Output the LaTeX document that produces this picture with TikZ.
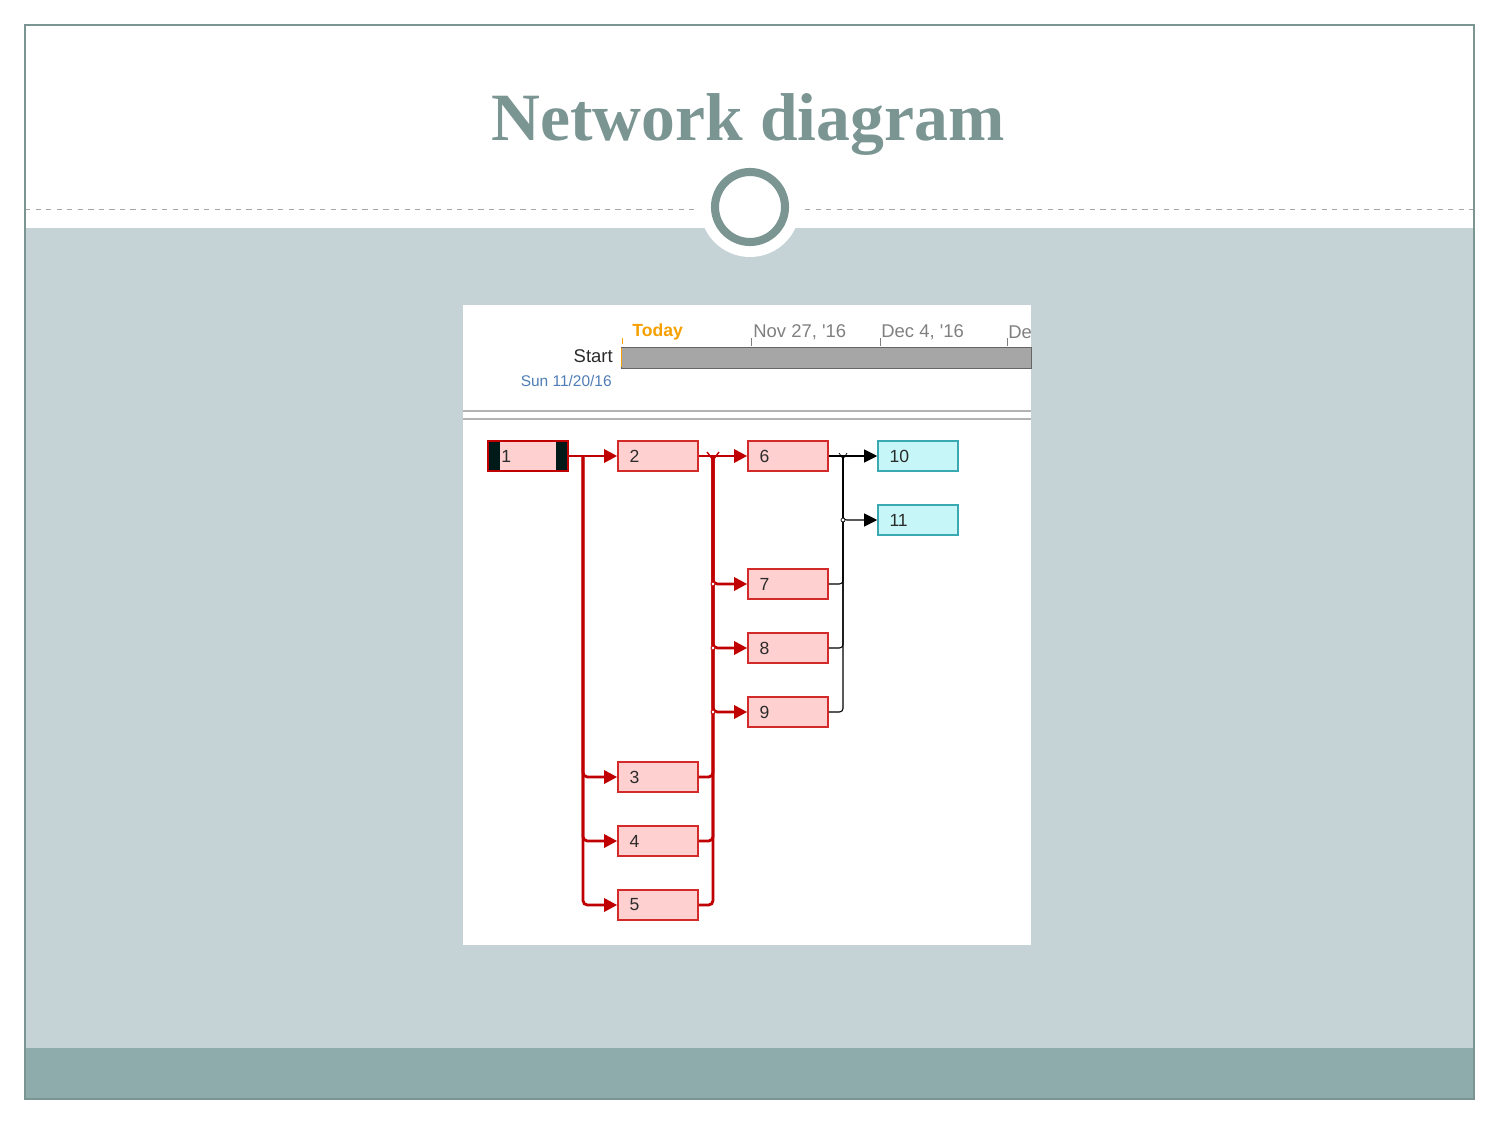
\documentclass[tikz,border=0pt]{standalone}
\usepackage{fontspec}
\setmainfont{Liberation Sans}
\newfontfamily\titlefont{Liberation Serif}
\usetikzlibrary{arrows.meta}
\definecolor{slateteal}{HTML}{7A9592}
\definecolor{bandblue}{HTML}{C5D3D7}
\definecolor{footteal}{HTML}{8EACAB}
\definecolor{taskred}{HTML}{D42A2A}
\definecolor{taskpink}{HTML}{FFD0D0}
\definecolor{crit}{HTML}{C00000}
\definecolor{milecyan}{HTML}{C6F6F8}
\definecolor{mileedge}{HTML}{3AA9B1}
\definecolor{datecol}{HTML}{4F7DB5}
\definecolor{todaycol}{HTML}{F5A000}
\definecolor{inktext}{HTML}{2B2B2B}
\tikzset{
  task/.style={draw=taskred, fill=taskpink, line width=.9pt, minimum width=1.6cm,
    minimum height=.6cm, inner sep=0pt, text width=1.14cm, align=left, text=inktext,
    font=\fontsize{10}{12}\selectfont},
  mile/.style={task, draw=mileedge, fill=milecyan},
  redlink/.style={crit, line width=1.6pt, rounded corners=2.5pt},
  blklink/.style={black, line width=.6pt, rounded corners=2pt},
  tip/.style={-{Triangle[length=7.5pt,width=7.5pt]}},
}
\begin{document}
\begin{tikzpicture}[x=.02cm, y=-.02cm]
  \useasboundingbox (0,0) rectangle (1500,1125);
  % slide
  \fill[bandblue] (25,228) rectangle (1474,1048);
  \fill[footteal] (25,1048) rectangle (1474,1099);
  \draw[gray!70, dashed, line width=.4pt] (25,209) -- (1474,209);
  \draw[slateteal, line width=.6pt] (25,25) rectangle (1474,1099);
  \node (title) at (748,124) {\titlefont\bfseries\fontsize{38.5}{46}\selectfont\color{slateteal}Network diagram};
  \fill[white] (750,207) circle [radius=50];
  \draw[slateteal, line width=4.6pt] (750,207) circle [radius=35];

  % screenshot panel
  \fill[white] (463,305) rectangle (1031,945);
  \node [anchor=west, inner sep=0pt, todaycol, font=\bfseries\fontsize{10}{12}\selectfont] (today) at (632,332) {Today};
  \node [anchor=west, inner sep=0pt, gray, font=\fontsize{10.5}{12}\selectfont] (nov) at (753,332) {Nov 27, \textquotesingle16};
  \node [anchor=west, inner sep=0pt, gray, font=\fontsize{10.5}{12}\selectfont] (dec) at (881,332) {Dec 4, \textquotesingle16};
  \begin{scope}
    \clip (463,305) rectangle (1031,945);
    \node [anchor=west, inner sep=0pt, gray, font=\fontsize{10.5}{12}\selectfont] (decb) at (1008,332) {Dec};
  \end{scope}
  \draw[todaycol] (622,338) -- (622,344);
  \foreach \tx in {751,880,1007}
    \draw[gray] (\tx,338) -- (\tx,346);
  \draw[gray!80!black, fill=gray!70, line width=.5pt] (621,347) rectangle (1031,368);
  \draw[todaycol, line width=.8pt] (621.5,348) -- (621.5,367);
  \node [anchor=east, inner sep=0pt, inktext, font=\fontsize{10.5}{12}\selectfont] (start) at (613,356) {Start};
  \node [anchor=east, inner sep=0pt, datecol, font=\fontsize{8.8}{10}\selectfont] (sdate) at (612,381) {Sun 11/20/16};
  \draw[gray!60, line width=.8pt] (463,411) -- (1031,411);
  \draw[gray!60, line width=.8pt] (463,419) -- (1031,419);

  % tasks
  \node [task, fill=taskpink] (n1) at (528,456) {};
  \fill[black!80!teal] (489,442) rectangle (500,470);
  \fill[black!80!teal] (556,442) rectangle (567,470);
  \draw[crit, line width=1pt] (488,441) rectangle (568,471);
  \node [anchor=west, inner sep=0pt, text=inktext, font=\fontsize{10}{12}\selectfont] (l1) at (501,456) {1};
  \node [task] (n2) at (658,456) {2};
  \node [task] (n6) at (788,456) {6};
  \node [mile] (n10) at (918,456) {10};
  \node [mile] (n11) at (918,520) {11};
  \node [task] (n7) at (788,584) {7};
  \node [task] (n8) at (788,648) {8};
  \node [task] (n9) at (788,712) {9};
  \node [task] (n3) at (658,777) {3};
  \node [task] (n4) at (658,841) {4};
  \node [task] (n5) at (658,905) {5};

  % links
  \coordinate (ja) at (583,456);
  \coordinate (jb) at (713,456);
  \coordinate (jc) at (843,456);
  \draw[redlink, tip] (n1.east) -- (n2.west);
  \draw[redlink, tip] (n2.east) -- (n6.west);
  \foreach \t in {n3,n4,n5} {
    \draw[redlink, tip] (ja) |- (\t.west);
    \draw[redlink] (\t.east) -| (jb);
  }
  \foreach \t in {n7,n8,n9} {
    \draw[redlink, tip] (jb) |- (\t.west);
    \draw[blklink] (\t.east) -| (jc);
  }
  \draw[blklink, tip] (n6.east) -- (n10.west);
  \draw[blklink, tip] (jc) |- (n11.west);
  \foreach \p in {(713,584),(713,648),(713,712)}
    \draw[crit, fill=white, line width=.5pt] \p circle [radius=2];
  \draw[black, fill=white, line width=.4pt] (843,520) circle [radius=2];
  \draw[crit, line width=.8pt] (707,452) -- (713,460) -- (719,452);
  \draw[black, line width=.4pt] (839,453) -- (843,459) -- (847,453);
\end{tikzpicture}
\end{document}
